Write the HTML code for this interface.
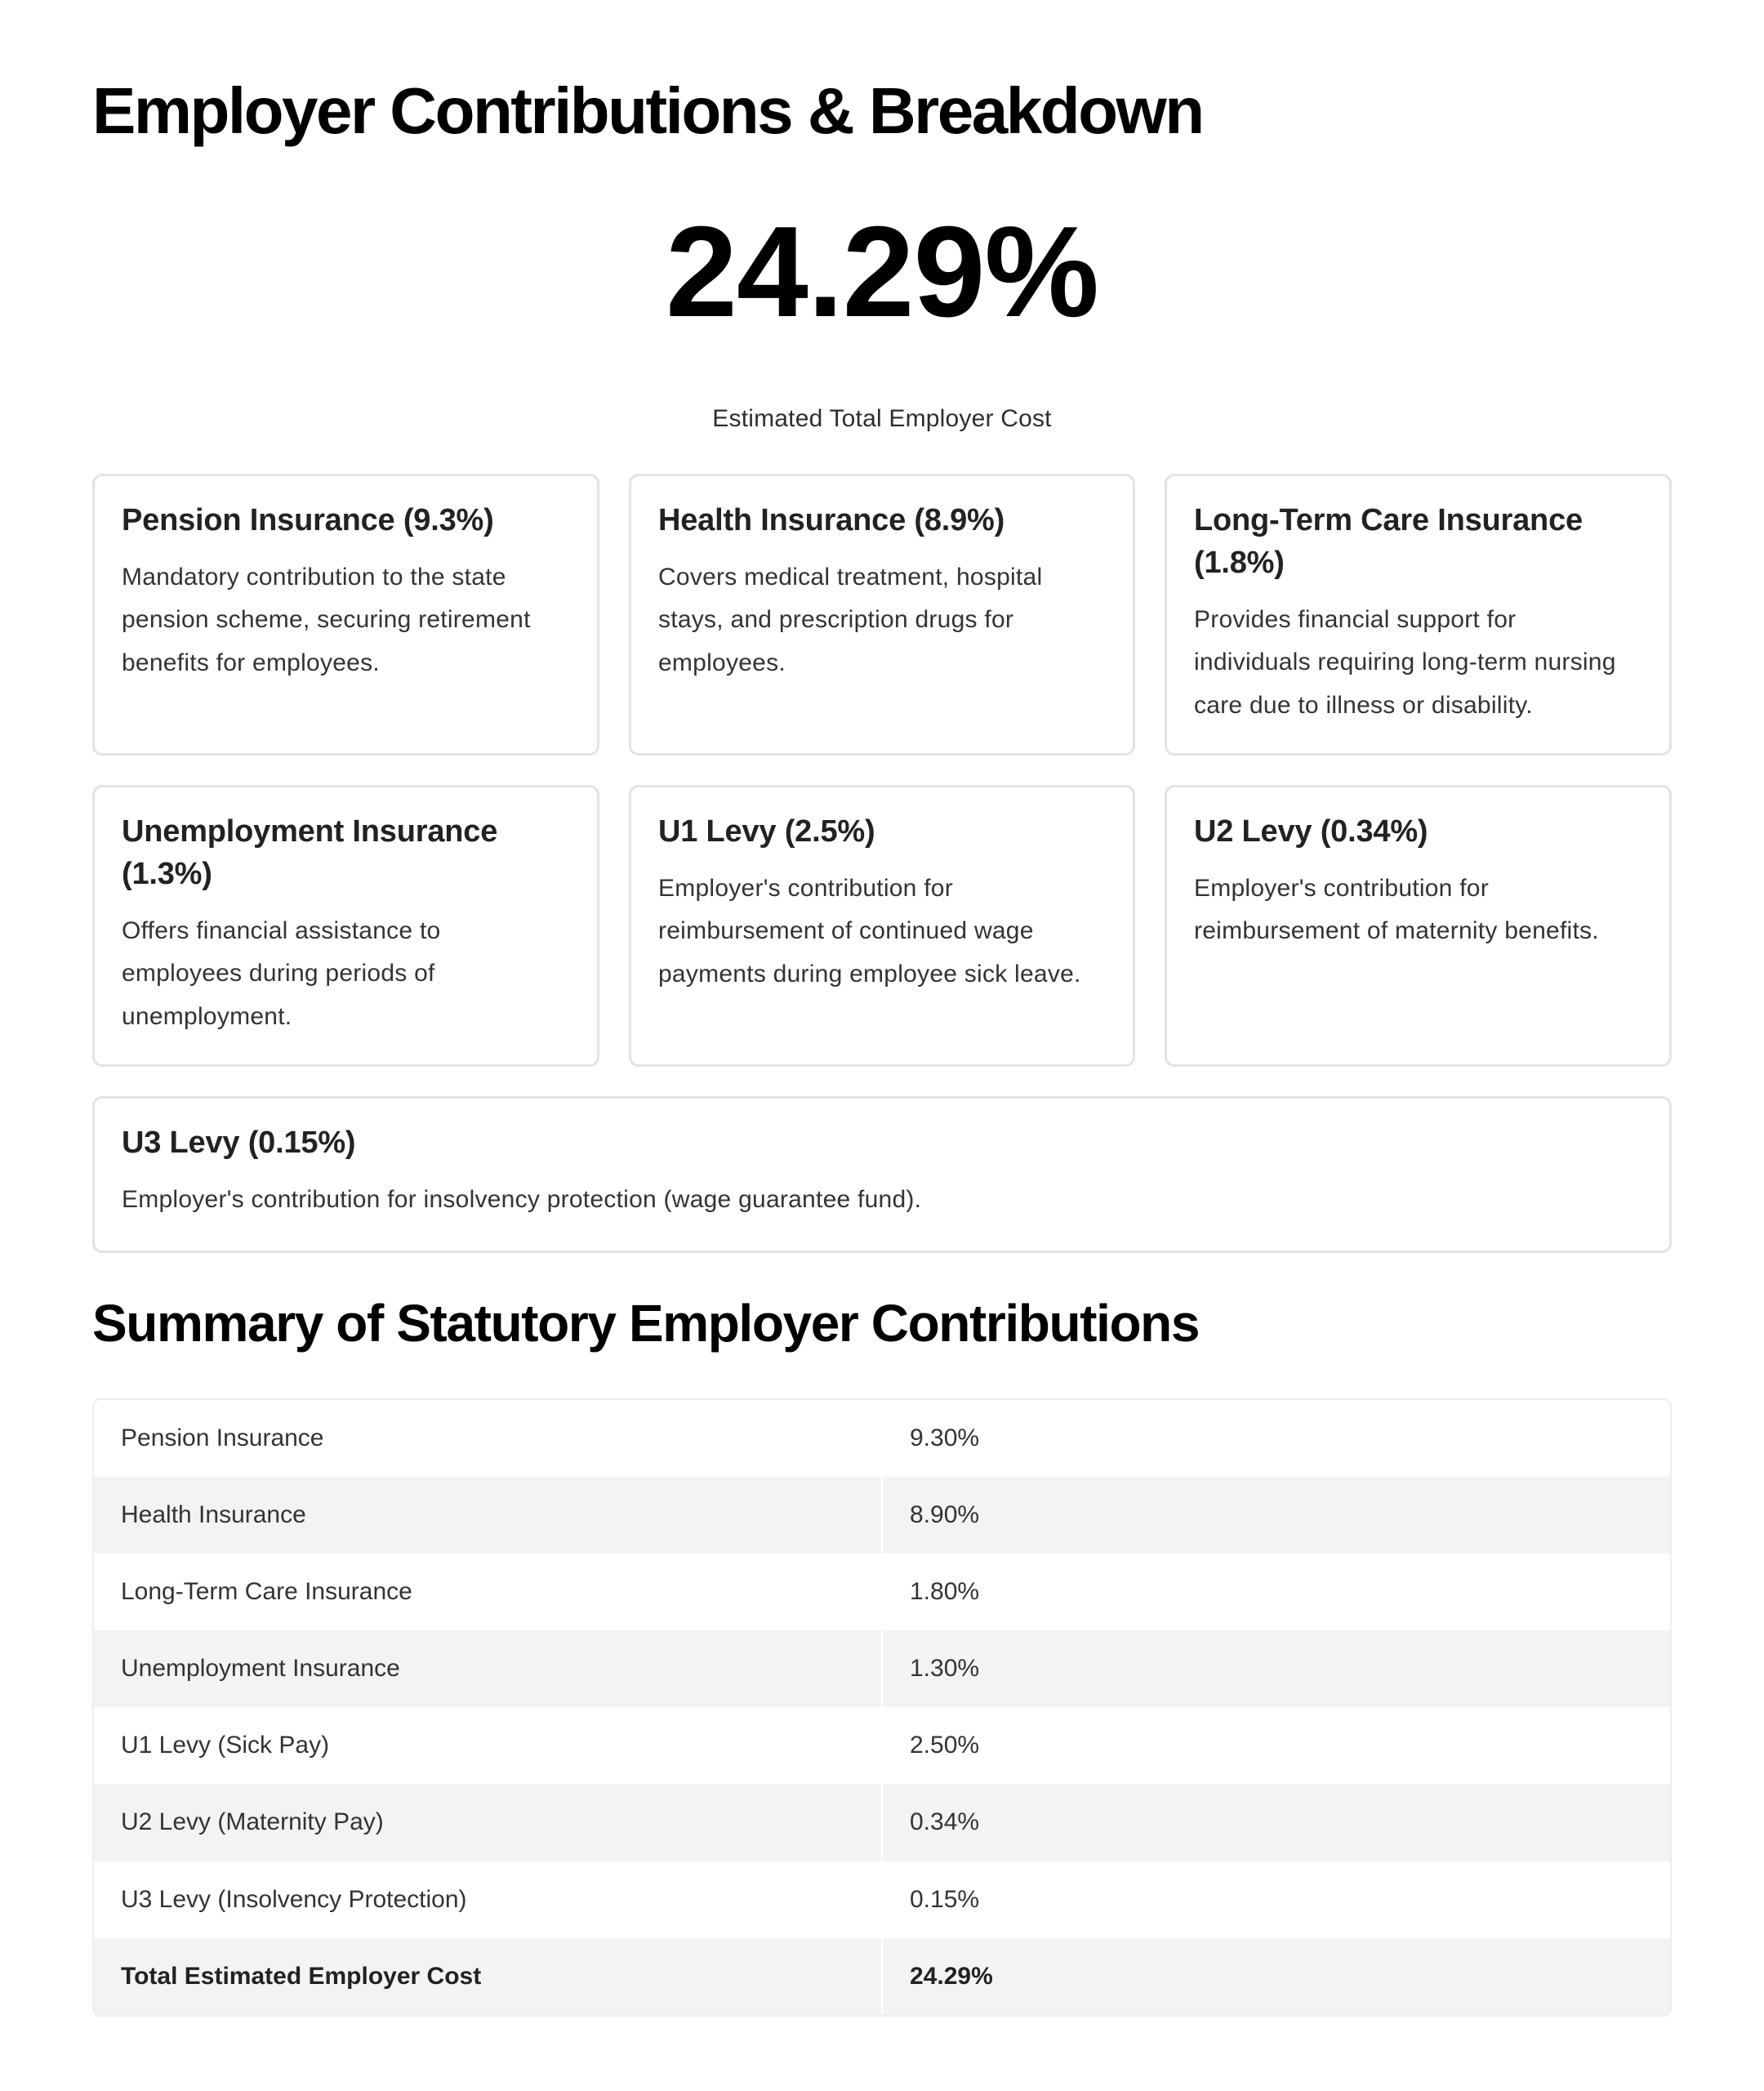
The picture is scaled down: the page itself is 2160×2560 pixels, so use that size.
<!DOCTYPE html>
<html>
<head>
<meta charset="utf-8">
<style>
  html, body { margin:0; padding:0; background:#ffffff; }
  body { width:2160px; height:2560px; position:relative; overflow:hidden;
         font-family:"Liberation Sans", Arial, sans-serif; }
  .abs { position:absolute; white-space:nowrap; }
  .title { left:113px; top:88px; font-size:80px; line-height:96px; font-weight:700;
           color:#000; letter-spacing:-2.5px; }
  .big { left:0; width:2160px; text-align:center; top:248px; font-size:158px; line-height:170px;
         font-weight:700; color:#000; letter-spacing:-1px; }
  .sub { left:0; width:2160px; text-align:center; top:493px; font-size:30px; line-height:40px;
         color:#2e2e2e; letter-spacing:0.2px; }
  .card { position:absolute; box-sizing:border-box; border:3px solid #e3e3e3; border-radius:12px;
          padding:28px 30px 0 33px; background:#fff; }
  .card h3 { margin:0; font-size:38px; line-height:52px; font-weight:700; color:#222;
             white-space:nowrap; letter-spacing:-0.2px; }
  .card p { margin:17.5px 0 0 0; font-size:30px; line-height:52.5px; color:#333;
            white-space:nowrap; letter-spacing:0.25px; }
  .h2 { left:113px; top:1580px; font-size:64px; line-height:80px; font-weight:700; color:#000;
        letter-spacing:-1.4px; }
  .table { position:absolute; left:113px; top:1712px; width:1934px; height:757px; box-sizing:border-box;
           border:2px solid #ededed; border-radius:10px; overflow:hidden; background:#fff; }
  .row { display:flex; height:94.1px; }
  .row.g { background:#f3f3f3; }
  .c1 { width:966px; box-sizing:border-box; padding-left:33px; line-height:94px; font-size:30px;
        color:#333; white-space:nowrap; border-right:2px solid #fff; letter-spacing:0px; }
  .c2 { flex:1; box-sizing:border-box; padding-left:33px; line-height:94px; font-size:30px;
        color:#333; white-space:nowrap; letter-spacing:0px; }
  .row.t .c1, .row.t .c2 { font-weight:700; color:#222; letter-spacing:0px; }
</style>
</head>
<body>
  <div class="abs title">Employer Contributions &amp; Breakdown</div>
  <div class="abs big">24.29%</div>
  <div class="abs sub">Estimated Total Employer Cost</div>

  <div class="card" style="left:113px; top:580px; width:621px; height:345px;">
    <h3>Pension Insurance (9.3%)</h3>
    <p>Mandatory contribution to the state<br>pension scheme, securing retirement<br>benefits for employees.</p>
  </div>
  <div class="card" style="left:770px; top:580px; width:620px; height:345px;">
    <h3>Health Insurance (8.9%)</h3>
    <p>Covers medical treatment, hospital<br>stays, and prescription drugs for<br>employees.</p>
  </div>
  <div class="card" style="left:1426px; top:580px; width:621px; height:345px;">
    <h3>Long-Term Care Insurance<br>(1.8%)</h3>
    <p>Provides financial support for<br>individuals requiring long-term nursing<br>care due to illness or disability.</p>
  </div>

  <div class="card" style="left:113px; top:961px; width:621px; height:345px;">
    <h3>Unemployment Insurance<br>(1.3%)</h3>
    <p>Offers financial assistance to<br>employees during periods of<br>unemployment.</p>
  </div>
  <div class="card" style="left:770px; top:961px; width:620px; height:345px;">
    <h3>U1 Levy (2.5%)</h3>
    <p>Employer's contribution for<br>reimbursement of continued wage<br>payments during employee sick leave.</p>
  </div>
  <div class="card" style="left:1426px; top:961px; width:621px; height:345px;">
    <h3>U2 Levy (0.34%)</h3>
    <p>Employer's contribution for<br>reimbursement of maternity benefits.</p>
  </div>

  <div class="card" style="left:113px; top:1342px; width:1934px; height:192px;">
    <h3>U3 Levy (0.15%)</h3>
    <p>Employer's contribution for insolvency protection (wage guarantee fund).</p>
  </div>

  <div class="abs h2">Summary of Statutory Employer Contributions</div>

  <div class="table">
    <div class="row"><div class="c1">Pension Insurance</div><div class="c2">9.30%</div></div>
    <div class="row g"><div class="c1">Health Insurance</div><div class="c2">8.90%</div></div>
    <div class="row"><div class="c1">Long-Term Care Insurance</div><div class="c2">1.80%</div></div>
    <div class="row g"><div class="c1">Unemployment Insurance</div><div class="c2">1.30%</div></div>
    <div class="row"><div class="c1">U1 Levy (Sick Pay)</div><div class="c2">2.50%</div></div>
    <div class="row g"><div class="c1">U2 Levy (Maternity Pay)</div><div class="c2">0.34%</div></div>
    <div class="row"><div class="c1">U3 Levy (Insolvency Protection)</div><div class="c2">0.15%</div></div>
    <div class="row g t"><div class="c1">Total Estimated Employer Cost</div><div class="c2">24.29%</div></div>
  </div>
</body>
</html>
